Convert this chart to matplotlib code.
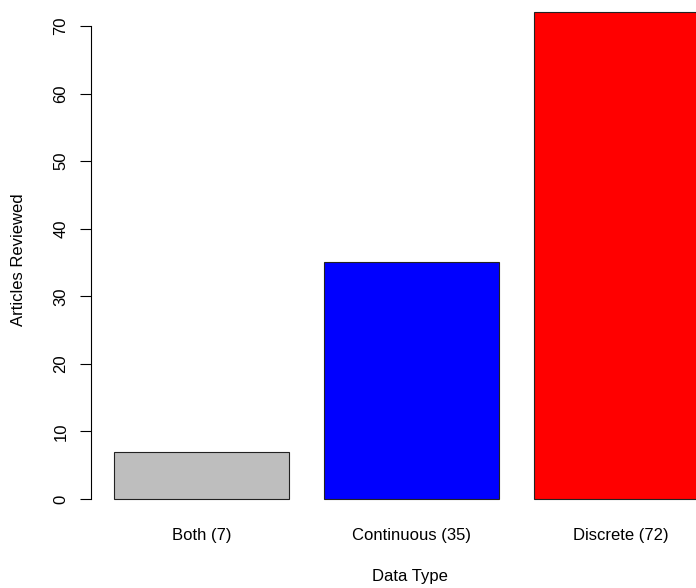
import matplotlib

matplotlib.use("Agg")
import matplotlib.pyplot as plt

categories = ["Both (7)", "Continuous (35)", "Discrete (72)"]
counts = [7, 35, 72]
colors = ["#BEBEBE", "#0000FF", "#FF0000"]
yticks = [0, 10, 20, 30, 40, 50, 60, 70]

plt.rcParams["font.family"] = ["Liberation Sans", "DejaVu Sans"]
FS = 12

W, H = 696, 588
fig = plt.figure(figsize=(W / 100, H / 100), dpi=100)

# R barplot geometry: width 1, space 0.2 -> bars at 0.2-1.2, 1.4-2.4, 2.6-3.6
left_px, right_px = 90.7, 732.2
top_px, bottom_px = -7.2, 523.5
ax = fig.add_axes([
    left_px / W,
    (H - bottom_px) / H,
    (right_px - left_px) / W,
    (bottom_px - top_px) / H,
])
ax.patch.set_alpha(0)

lefts = [0.2 + 1.2 * i for i in range(len(counts))]
centers = [x + 0.5 for x in lefts]
ax.bar(centers, counts, width=1.0, color=colors, edgecolor="#222222", linewidth=0.8)

ax.set_xlim(0.064, 3.736)
ax.set_ylim(-3.63, 74.91)

for side in ("top", "right", "bottom"):
    ax.spines[side].set_visible(False)
ax.spines["left"].set_bounds(0, 70)
ax.spines["left"].set_linewidth(0.8)

ax.set_yticks(yticks)
ax.set_yticklabels([str(v) for v in yticks])
ax.tick_params(axis="y", length=7.7, width=0.8, pad=8.2, labelsize=FS, labelrotation=90)
for lab in ax.get_yticklabels():
    lab.set_va("center")

ax.set_xticks(centers)
ax.set_xticklabels(categories)
ax.tick_params(axis="x", length=0, pad=3.0, labelsize=FS)

ax.set_xlabel("Data Type", fontsize=FS, va="center")
ax.xaxis.set_label_coords((409.6 - left_px) / (right_px - left_px),
                          -(577 - bottom_px) / (bottom_px - top_px))
ax.set_ylabel("Articles Reviewed", fontsize=FS, va="center", ha="center")
ax.yaxis.set_label_coords(-(left_px - 19) / (right_px - left_px),
                          (bottom_px - 260) / (bottom_px - top_px))

fig.savefig("out.png", dpi=100)
